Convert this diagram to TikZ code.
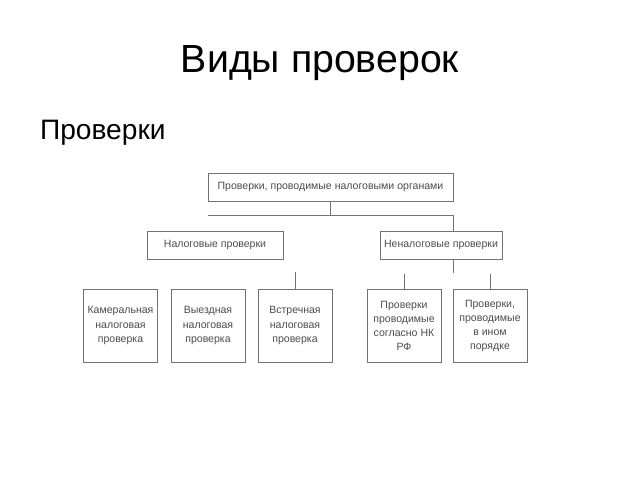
\documentclass[tikz,border=0pt]{standalone}
\usepackage{fontspec}
\setmainfont{Liberation Sans}
\begin{document}
\begin{tikzpicture}[x=0.03cm, y=-0.03cm,
    box/.style={draw=black!55, fill=white, text=black!70, align=center,
      inner sep=0pt, font=\fontsize{9}{12}\selectfont},
    wide/.style={box, minimum height=0.84cm},
    leaf/.style={box, minimum width=2.22cm, minimum height=2.19cm},
    link/.style={draw=black!55, line width=0.6pt}]
    \useasboundingbox (0,0) rectangle (640,480);

    \node[anchor=base, font=\fontsize{33.5}{40}\selectfont] (title) at (320,73) {Виды проверок};
    \node[anchor=base west, font=\fontsize{24}{28}\selectfont] (heading) at (36,140) {Проверки};

    % upper levels
    \node[wide, minimum width=7.35cm] (organs) at (330.5,187) {Проверки, проводимые налоговыми органами};
    \node[wide, minimum width=4.08cm] (tax) at (215,245) {Налоговые проверки};
    \node[wide, minimum width=3.66cm] (nontax) at (441,245) {Неналоговые проверки};

    % lower level
    \node[leaf] (desk) at (120.5,325.5) {Камеральная\\налоговая\\проверка};
    \node[leaf] (field) at (208,325.5) {Выездная\\налоговая\\проверка};
    \node[leaf] (counter) at (295,325.5) {Встречная\\налоговая\\проверка};
    \node[leaf] (code) at (404,326) {Проверки\\проводимые\\согласно НК\\РФ};
    \node[leaf] (other) at (490,326) {Проверки,\\проводимые\\в ином\\порядке};

    % connectors
    \draw[link] (organs.south) -- (organs.south |- 0,215) coordinate (split);
    \draw[link] (organs.south west |- split) -- (organs.south east |- split)
      -- (organs.south east |- nontax.north);
    \draw[link] (organs.south east |- nontax.south) -- ++(0,14);
    \draw[link] (counter.north) -- ++(0,-17);
    \draw[link] (code.north) -- ++(0,-15);
    \draw[link] (other.north) -- ++(0,-15);
  \end{tikzpicture}
\end{document}
